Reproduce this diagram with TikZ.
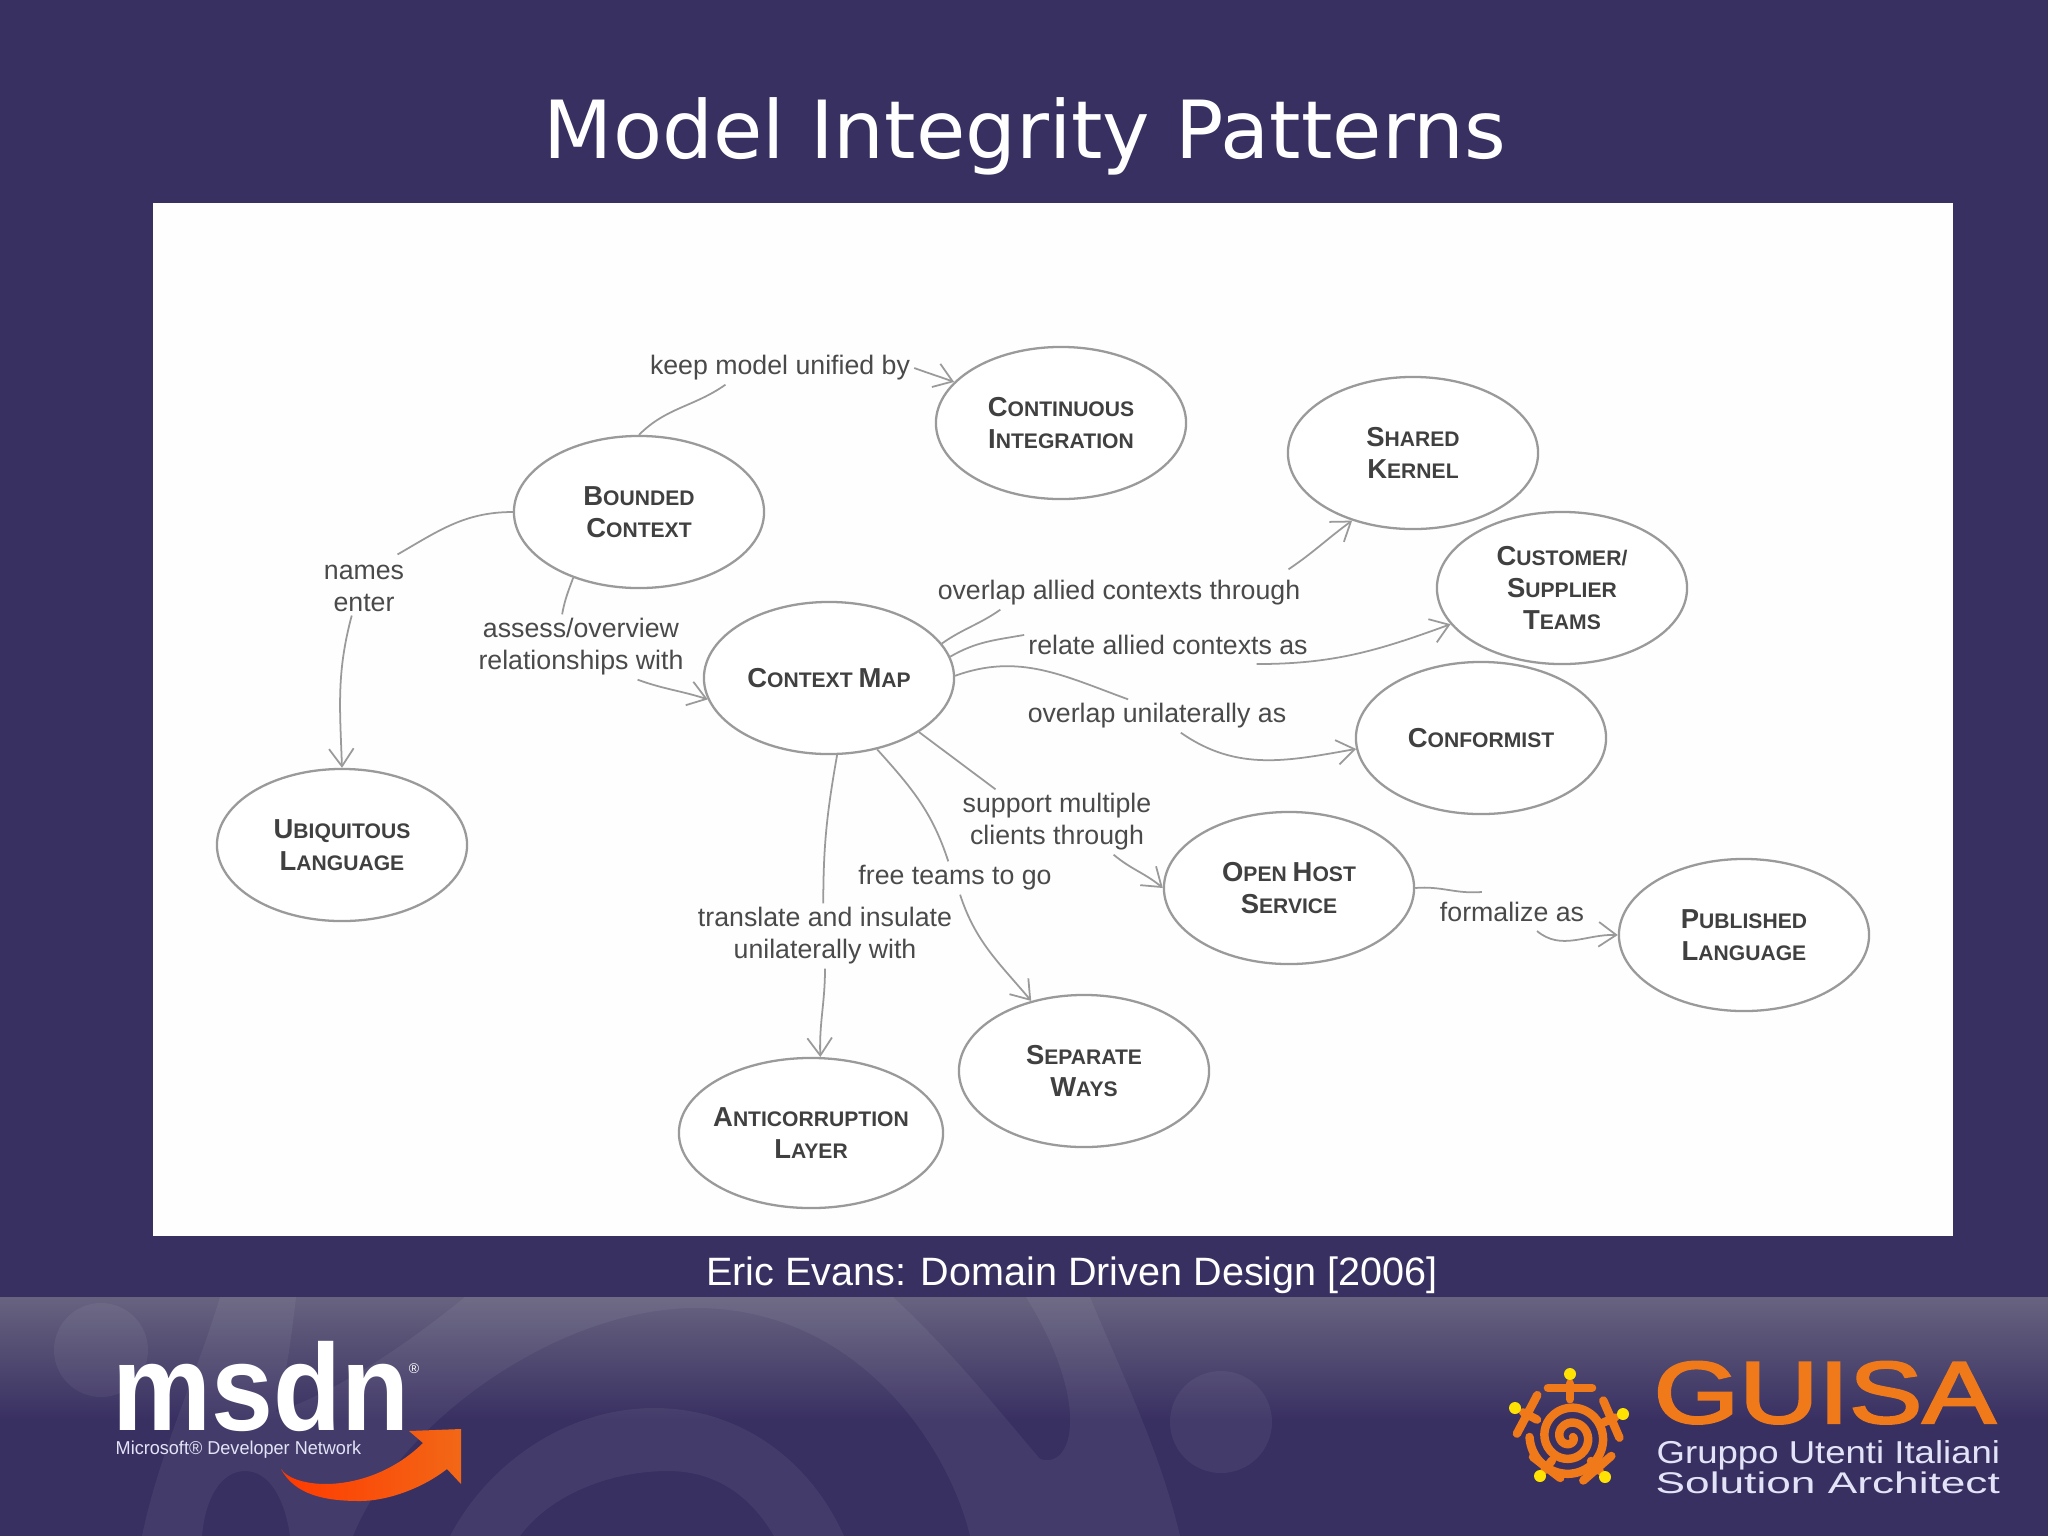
\documentclass[tikz,border=0pt]{standalone}
\usepackage{fontspec}
\setmainfont{Liberation Sans}
\newfontfamily\titlefont{DejaVu Sans}
\newfontfamily\guisafont[FakeBold=2.5]{Liberation Sans}
\usetikzlibrary{shapes}
\usetikzlibrary{arrows.meta}
\definecolor{slidebg}{HTML}{393062}
\definecolor{bandtop}{HTML}{67637F}
\definecolor{linegray}{HTML}{9A9A9A}
\definecolor{textgray}{HTML}{4A4A4A}
\definecolor{logoorange}{HTML}{F07A1A}
\definecolor{logotext}{HTML}{E2E3F6}
\newcommand{\scap}[2]{{\fontsize{7.8}{9.1}\selectfont #1}#2}
\begin{document}
\begin{tikzpicture}[x=0.01cm,y=-0.01cm]
\tikzstyle{concept}=[ellipse,draw=linegray,line width=0.65pt,fill=white,inner sep=0pt,
minimum width=2.5cm,minimum height=1.52cm,align=center,text=black!75,
font=\bfseries\fontsize{6}{9.1}\selectfont]
\tikzstyle{relation}=[inner sep=1pt,align=center,text=textgray,
font=\fontsize{7.6}{9.1}\selectfont]
\tikzstyle{link}=[draw=linegray,line width=0.5pt]
\tikzstyle{linkto}=[link,-{Straight Barb[length=5pt,width=7pt]}]
\tikzstyle{swirl}=[white,fill opacity=0.055]
\useasboundingbox (0,0) rectangle (2048,1536);
\fill[slidebg] (0,0) rectangle (2048,1536);
\shade[top color=bandtop,bottom color=slidebg] (0,1297) rectangle (2048,1420);
% background of the footer
\fill[swirl] (220,1297) -- (296,1297) .. controls (290,1350) and (285,1380) .. (276,1412)
.. controls (330,1395) and (400,1350) .. (465,1297) -- (893,1297)
.. controls (950,1350) and (990,1400) .. (1040,1459) .. controls (1075,1470) and (1090,1400) .. (1026,1297)
-- (1090,1297) .. controls (1120,1370) and (1160,1450) .. (1180,1536) -- (970,1536)
.. controls (950,1450) and (860,1308) .. (696,1308) .. controls (560,1308) and (400,1420) .. (353,1536)
-- (290,1536) .. controls (285,1500) and (270,1471) .. (245,1471) .. controls (220,1471) and (205,1500) .. (202,1536)
-- (142,1536) .. controls (160,1450) and (195,1380) .. (220,1297) -- cycle;
\fill[swirl] (450,1536) .. controls (490,1460) and (570,1408) .. (654,1408) .. controls (740,1408) and (810,1460) .. (844,1536)
-- (774,1536) .. controls (750,1495) and (715,1471) .. (668,1471) .. controls (610,1471) and (550,1495) .. (520,1536) -- cycle;
\fill[swirl] (101,1350) circle (47);
\fill[swirl] (1221,1422) circle (51);
\fill[white!99.5!black] (153,203) rectangle (1953,1236);
\node[font=\titlefont\fontsize{22.8}{26}\selectfont,text=white] (title) at (1025,136) {Model Integrity Patterns};
\node[font=\fontsize{11.25}{13}\selectfont,text=white] (source) at (1072,1275) {Eric Evans: Domain Driven Design [2006]};
% concepts
\node[concept] (bounded context) at (639,512) {\scap{B}{OUNDED}\\\scap{C}{ONTEXT}};
\node[concept] (continuous integration) at (1061,423) {\scap{C}{ONTINUOUS}\\\scap{I}{NTEGRATION}};
\node[concept] (shared kernel) at (1413,453) {\scap{S}{HARED}\\\scap{K}{ERNEL}};
\node[concept] (customer supplier) at (1562,588) {\scap{C}{USTOMER/}\\\scap{S}{UPPLIER}\\\scap{T}{EAMS}};
\node[concept] (conformist) at (1481,738) {\scap{C}{ONFORMIST}};
\node[concept] (context map) at (829,678) {\scap{C}{ONTEXT} \scap{M}{AP}};
\node[concept] (ubiquitous language) at (342,845) {\scap{U}{BIQUITOUS}\\\scap{L}{ANGUAGE}};
\node[concept] (open host) at (1289,888) {\scap{O}{PEN} \scap{H}{OST}\\\scap{S}{ERVICE}};
\node[concept] (published language) at (1744,935) {\scap{P}{UBLISHED}\\\scap{L}{ANGUAGE}};
\node[concept] (separate ways) at (1084,1071) {\scap{S}{EPARATE}\\\scap{W}{AYS}};
\node[concept,minimum width=2.64cm,minimum height=1.5cm,inner xsep=-8pt] (anticorruption layer) at (811,1133) {\scap{A}{NTICORRUPTION}\\\scap{L}{AYER}};
% labels on the connectors
\node[relation] (keep unified) at (780,368) {keep model unified by};
\node[relation] (names enter) at (364,588) {names\\enter};
\node[relation] (assess overview) at (581,647) {assess/overview\\relationships with};
\node[relation] (overlap through) at (1119,593) {overlap allied contexts through};
\node[relation] (relate allied) at (1168,645) {relate allied contexts as};
\node[relation] (overlap unilateral) at (1157,716) {overlap unilaterally as};
\node[relation] (support clients) at (1057,822) {support multiple\\clients through};
\node[relation] (free teams) at (955,878) {free teams to go};
\node[relation] (translate insulate) at (825,936) {translate and insulate\\unilaterally with};
\node[relation] (formalize) at (1512,912) {formalize as};
% connectors
\draw[link] (bounded context.90) to [out=45,in=215] (keep unified.197);
\draw[linkto] (keep unified.east) to [out=-20,in=160] (continuous integration.159);
\draw[link] (bounded context.180) to [out=180,in=30] ([shift={(6,-6)}]names enter.45);
\draw[linkto] (names enter.246) to [out=255,in=92] (ubiquitous language.90);
\draw[link] (bounded context.225) to [out=250,in=80] (assess overview.120);
\draw[linkto] (assess overview.330) to [out=-20,in=162] (context map.190);
\draw[link] (context map.17) to [out=35,in=215] (overlap through.188);
\draw[linkto] ([shift={(-16,-7)}]overlap through.north east) to [out=34,in=216] (shared kernel.228);
\draw[link] (context map.10) to [out=30,in=190] (relate allied.176);
\draw[linkto] ([shift={(0,5)}]relate allied.351) to [out=0,in=200] (customer supplier.198);
\draw[link] (context map.1) to [out=20,in=160] (overlap unilateral.150);
\draw[linkto] (overlap unilateral.325) to [out=-35,in=190] (conformist.185);
\draw[link] (context map.329) to (support clients.152);
\draw[linkto] (support clients.330) to [out=-40,in=140] (open host.180);
\draw[link] (context map.304) to [out=-48,in=108] (free teams.112);
\draw[linkto] (free teams.287) to [out=-72,in=130] (separate ways.127);
\draw[link] (context map.276) to [out=260,in=90] (translate insulate.93);
\draw[linkto] (translate insulate.270) to [out=270,in=92] (anticorruption layer.83);
\draw[link] (open host.0) to [out=5,in=185] ([shift={(0,-6)}]formalize.155);
\draw[linkto] ([shift={(5,5)}]formalize.325) to [out=-40,in=178] (published language.180);
% msdn logo
\node[anchor=base west,inner sep=0pt,text=white,font=\bfseries\fontsize{35}{35}\selectfont] (msdn) at (112,1430) {\scalebox{0.905}[1]{msdn}};
\node[inner sep=0pt,text=white,font=\fontsize{4}{4}\selectfont] (registered) at (414,1369) {®};
\node[anchor=base west,inner sep=0pt,text=logotext,font=\fontsize{5.3}{6}\selectfont] (msdn sub) at (115,1454) {\scalebox{0.97}[1]{Microsoft® Developer Network}};
\path[left color=red!55!orange,middle color=orange!65!white,right color=logoorange!85!red] (281,1469) .. controls (295,1490) and (370,1495) .. (423,1443)
-- (409,1431) -- (461,1429) -- (461,1484) -- (447,1469) .. controls (420,1490) and (385,1501) .. (360,1501)
.. controls (325,1501) and (295,1495) .. (281,1469) -- cycle;
% guisa logo
\node[anchor=base west,inner sep=0pt,text=logoorange,font=\guisafont\fontsize{25}{25}\selectfont] (guisa) at (1653,1423) {\scalebox{1.25}[1]{GUISA}};
\node[anchor=base west,inner sep=0pt,text=logotext,font=\fontsize{9}{9}\selectfont] (guisa line one) at (1656,1463) {\scalebox{1.155}[1]{Gruppo Utenti Italiani}};
\node[anchor=base west,inner sep=0pt,text=logotext,font=\fontsize{8.5}{8.5}\selectfont] (guisa line two) at (1655,1493) {\scalebox{1.48}[1]{Solution Architect}};
\begin{scope}[shift={(1570,1437)},draw=logoorange,line width=2.4pt,line cap=round]
\draw plot[domain=0:900,samples=90,smooth] ({(3+\x/24)*cos(\x)},{(3+\x/24)*sin(\x)});
\foreach \dx/\dy in {0/-63,-55/-29,53/-23,-30/39,35/40}{
\draw (0.6*\dx,0.6*\dy) -- (0.85*\dx,0.85*\dy);
\draw (0.78*\dx-0.35*\dy,0.78*\dy+0.35*\dx) -- (0.78*\dx+0.35*\dy,0.78*\dy-0.35*\dx);
\fill[yellow!85!orange] (\dx,\dy) circle (6);
}
\end{scope}
\end{tikzpicture}
\end{document}
